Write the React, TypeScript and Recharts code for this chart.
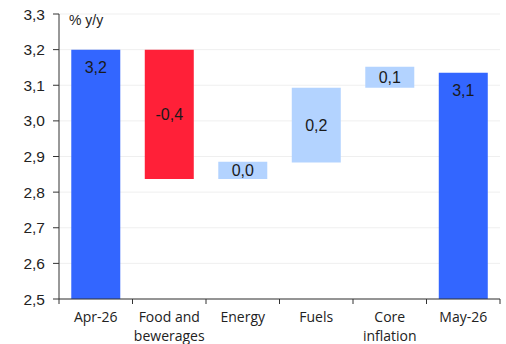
import { Bar, BarChart, CartesianGrid, Cell, LabelList, XAxis, YAxis } from 'recharts';

const categories = ['Apr-26', 'Food and\nbewerages', 'Energy', 'Fuels', 'Core\ninflation', 'May-26'];
const barBase = [2.5, 2.837, 2.837, 2.883, 3.093, 2.5];
const barTop = [3.2, 3.2, 2.885, 3.093, 3.152, 3.135];
const barLabels = ['3,2', '-0,4', '0,0', '0,2', '0,1', '3,1'];
const isTotal = [true, false, false, false, false, true];
const yTicks = [2.5, 2.6, 2.7, 2.8, 2.9, 3.0, 3.1, 3.2, 3.3];

const BLUE = '#3366ff';
const RED = '#ff2038';
const LIGHT = '#b3d3ff';

const colorFor = (i: number) => {
  if (isTotal[i]) return BLUE;
  return barLabels[i].startsWith('-') ? RED : LIGHT;
};

const data = categories.map((name, i) => ({
  name,
  base: barBase[i],
  delta: barTop[i] - barBase[i],
  label: barLabels[i],
  total: isTotal[i],
}));

const FONT = '"Liberation Sans", Arial, sans-serif';

function CategoryTick(props: any) {
  const { x, y, payload, index } = props;
  const band = 73.5;
  const lines = String(payload.value).split('\n');
  return (
    <g>
      <line x1={x - band / 2} x2={x - band / 2} y1={y - 8} y2={y - 3} stroke="#333" />
      {index === categories.length - 1 && (
        <line x1={x + band / 2} x2={x + band / 2} y1={y - 8} y2={y - 3} stroke="#333" />
      )}
      <text x={x} y={y + 15} textAnchor="middle" fill="#222" fontSize={14} fontFamily={'"Open Sans", sans-serif'}>
        {lines.map((l, i) => (
          <tspan key={i} x={x} dy={i === 0 ? 0 : 19}>
            {l}
          </tspan>
        ))}
      </text>
    </g>
  );
}

function BarLabel(props: any) {
  const { x, y, width, height, index } = props;
  const ty = isTotal[index] ? y + 23 : y + height / 2 + 6;
  return (
    <text x={x + width / 2} y={ty} textAnchor="middle" fill="#1a1a1a" fontSize={16} fontFamily={FONT}>
      {barLabels[index]}
    </text>
  );
}

export default function App() {
  return (
    <div style={{ position: 'absolute', left: 0, top: 0, background: '#fff' }}>
      <BarChart
        width={506}
        height={344}
        data={data}
        margin={{ top: 14, right: 6, bottom: 5, left: 0 }}
        barCategoryGap="16.7%"
      >
        <CartesianGrid vertical={false} stroke="#efefef" />
        <XAxis
          dataKey="name"
          interval={0}
          height={40}
          tickLine={false}
          axisLine={{ stroke: '#333' }}
          tick={<CategoryTick />}
        />
        <YAxis
          domain={[2.5, 3.3]}
          ticks={yTicks}
          width={59}
          tickSize={6}
          tickMargin={8}
          allowDataOverflow
          axisLine={{ stroke: '#333' }}
          tickLine={{ stroke: '#333' }}
          tick={{ fill: '#222', fontSize: 15.5, fontFamily: FONT }}
          tickFormatter={(v: number) => v.toFixed(1).replace('.', ',')}
        />
        <Bar dataKey="base" stackId="w" fill="transparent" isAnimationActive={false} />
        <Bar dataKey="delta" stackId="w" isAnimationActive={false}>
          {data.map((_, i) => (
            <Cell key={i} fill={colorFor(i)} />
          ))}
          <LabelList dataKey="label" content={<BarLabel />} />
        </Bar>
        <text x={69} y={25} fill="#222" fontSize={14} fontFamily={FONT}>
          % y/y
        </text>
      </BarChart>
    </div>
  );
}
